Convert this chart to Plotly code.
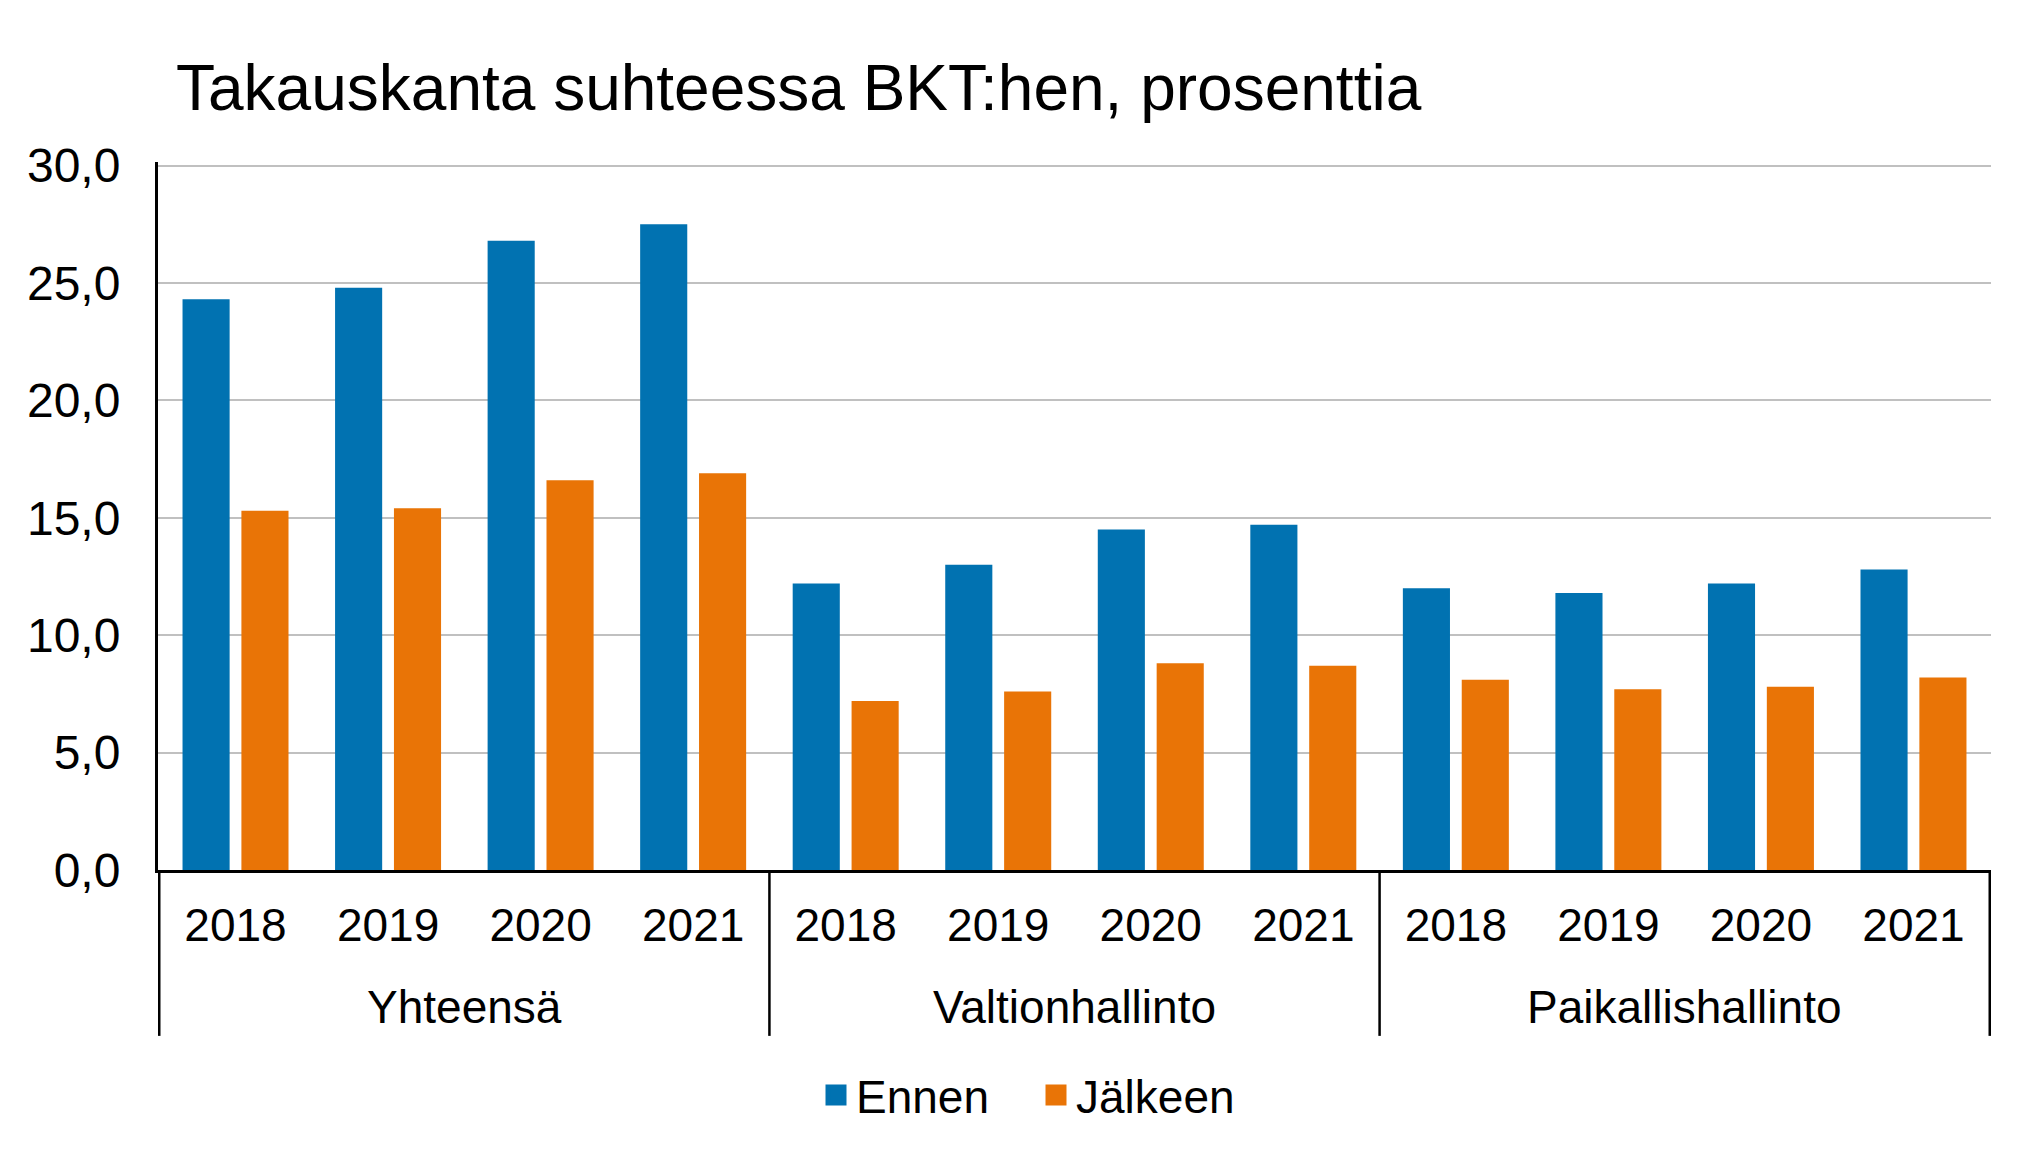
import plotly.graph_objects as go

groups = ["Yhteensä", "Valtionhallinto", "Paikallishallinto"]
years = ["2018", "2019", "2020", "2021"]

ennen = [24.3, 24.8, 26.8, 27.5,
         12.2, 13.0, 14.5, 14.7,
         12.0, 11.8, 12.2, 12.8]
jalkeen = [15.3, 15.4, 16.6, 16.9,
           7.2, 7.6, 8.8, 8.7,
           8.1, 7.7, 7.8, 8.2]

series_names = ["Ennen", "Jälkeen"]
colors = ["#0172B1", "#E97406"]

x_keys = [f"{g}|{y}" for g in groups for y in years]
x_ticktext = [y for _ in groups for y in years]

FONT = "Liberation Sans, Arial, sans-serif"

fig = go.Figure()
for name, vals, col in zip(series_names, [ennen, jalkeen], colors):
    fig.add_trace(go.Bar(
        x=x_keys, y=vals, name=name,
        marker=dict(color=col, line=dict(width=0)),
        showlegend=False,
    ))
# legend-only markers (larger squares)
for name, col in zip(series_names, colors):
    fig.add_trace(go.Scatter(
        x=[None], y=[None], mode="markers", name=name,
        marker=dict(symbol="square", size=16, color=col,
                    line=dict(color=col, width=5)),
        showlegend=True,
    ))

# plot-area geometry (pixels) used for the secondary axis level
H = 1164
y_max = 30.15
top_px, base_px = 161.5, 870
plot_h = base_px - top_px
group_label_y = -(1007 - base_px) / plot_h
divider_bottom = -(1036 - base_px) / plot_h

n = len(years)
annotations = []
shapes = []
for gi, g in enumerate(groups):
    annotations.append(dict(
        text=g, x=gi * n + (n - 1) / 2, xref="x",
        y=group_label_y, yref="paper", yanchor="middle", xanchor="center",
        showarrow=False, font=dict(family=FONT, size=46, color="black"),
    ))
for k in range(len(groups) + 1):
    shapes.append(dict(
        type="line", xref="x", yref="paper",
        x0=k * n - 0.5, x1=k * n - 0.5, y0=0, y1=divider_bottom,
        line=dict(color="black", width=2.5),
    ))

fig.update_layout(
    width=2042, height=H,
    margin=dict(l=158, r=51, t=top_px, b=H - base_px),
    paper_bgcolor="white", plot_bgcolor="white",
    font=dict(family=FONT, size=46, color="black"),
    separators=", ",
    barmode="group", bargap=0.228, bargroupgap=0.2,
    title=dict(text="Takauskanta suhteessa BKT:hen, prosenttia",
               font=dict(family=FONT, size=64, color="black"),
               x=176/2042, xanchor="left", xref="container",
               y=1-88/1164, yanchor="middle", yref="container"),
    legend=dict(orientation="h", xref="container", yref="container",
                x=816/2042, xanchor="left", y=1-1095/1164, yanchor="middle",
                entrywidth=175,
                font=dict(family=FONT, size=46, color="black"),
                itemclick=False, traceorder="normal"),
    showlegend=True,
    annotations=annotations,
    shapes=shapes,
)
fig.update_yaxes(
    range=[0, y_max], tickvals=[0, 5, 10, 15, 20, 25, 30], tickformat=".1f",
    showgrid=True, gridcolor="#C0C0C0", gridwidth=2,
    zeroline=False, showline=True, linecolor="black", linewidth=3,
    ticks="", ticklabelstandoff=25,
    tickfont=dict(family=FONT, size=48, color="black"),
)
fig.update_xaxes(
    type="category", tickvals=x_keys, ticktext=x_ticktext,
    showline=True, linecolor="black", linewidth=3,
    ticks="", ticklabelstandoff=13, showgrid=False,
    tickfont=dict(family=FONT, size=46, color="black"),
)

fig.write_html("out.html")
